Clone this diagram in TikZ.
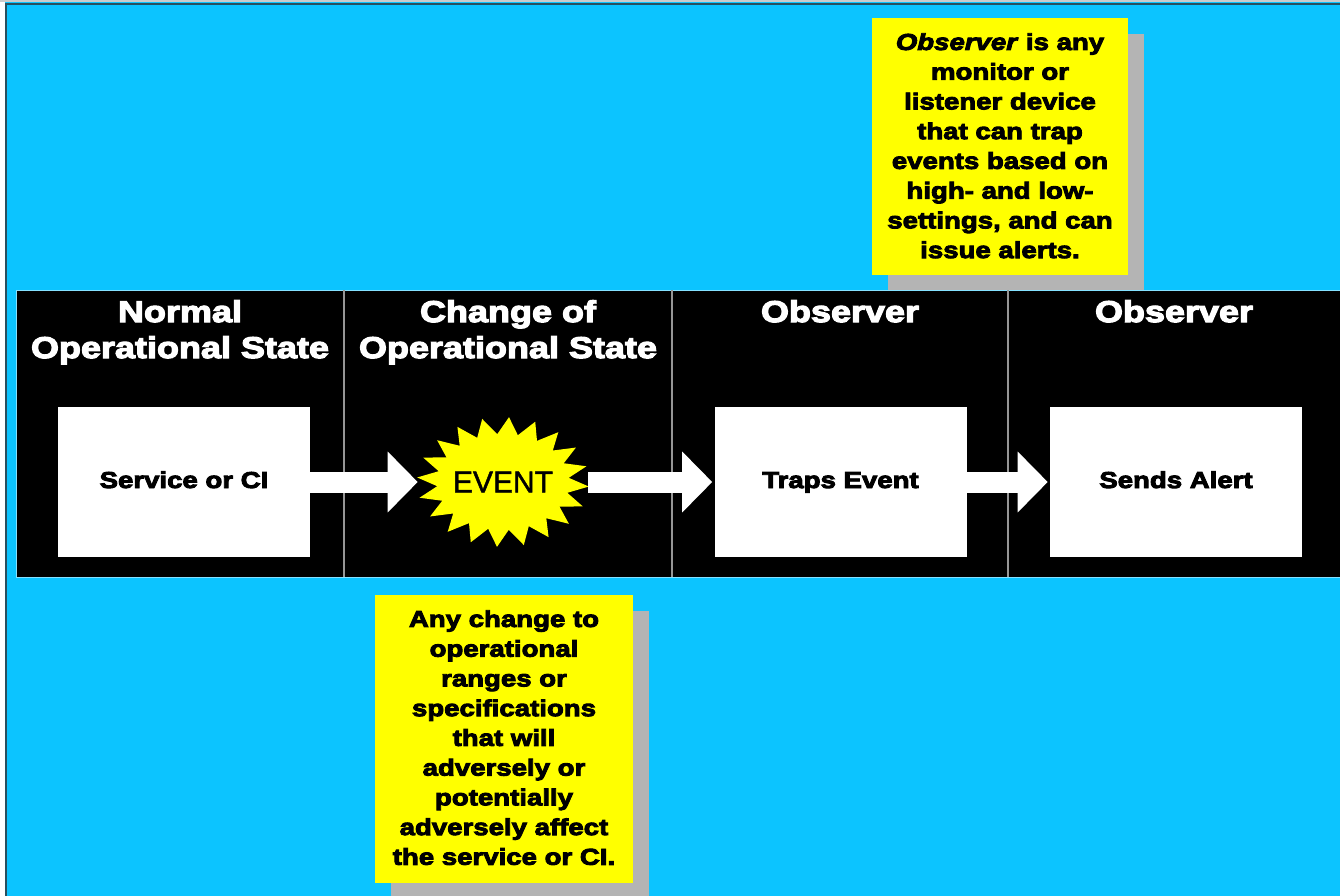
\documentclass[tikz,border=0pt]{standalone}
\usepackage{fontspec}
\usetikzlibrary{arrows.meta}
\newfontfamily\blk{Liberation Sans}[UprightFont=* Bold, ItalicFont=* Bold Italic, FakeStretch=1.2, FakeBold=4]
\newfontfamily\evfont{Liberation Sans}[FakeBold=1.5]
\definecolor{bgcyan}{RGB}{12,196,255}
\definecolor{noteyellow}{RGB}{255,255,0}
\definecolor{shadowgray}{RGB}{180,180,180}
\definecolor{divgray}{RGB}{150,150,150}
\definecolor{edgedark}{RGB}{40,80,95}
\tikzset{
  whitebox/.style={fill=white, minimum width=189pt, minimum height=112.5pt, inner sep=0pt,
    text height=12.5pt, text depth=3.5pt,
    font=\blk\fontsize{17.25pt}{20pt}\selectfont},
  paneltitle/.style={text=white, align=center, anchor=north, inner sep=0pt,
    font=\blk\fontsize{22.5pt}{27pt}\selectfont},
  notebox/.style={fill=noteyellow, anchor=north west, inner sep=0pt},
  notetext/.style={align=center, anchor=north, inner sep=0pt,
    font=\blk\fontsize{17.25pt}{22.3pt}\selectfont},
  blockarrow/.style={draw=white, line width=15.75pt, -{Triangle[length=22.5pt,width=44.25pt]}},
  divider/.style={draw=divgray, line width=1.5pt}
}
\begin{document}
\begin{tikzpicture}[x=0.75pt,y=-0.75pt]
\useasboundingbox (0,0) rectangle (1340,896);
\clip (0,0) rectangle (1340,896);
% background and page edges
\fill[bgcyan] (0,0) rectangle (1340,896);
\fill[white] (0,0) rectangle (5,896);
\fill[gray!40] (0,0) rectangle (1340,2);
\draw[edgedark, line width=1.5pt] (6,896) -- (6,3.5) -- (1340,3.5);
% shadows
\fill[shadowgray] (888,34) rectangle (1144,291);
\fill[shadowgray] (391,611) rectangle (649,899);
% black band
\fill[black, draw=white!50!bgcyan, line width=0.75pt] (16,290) rectangle (1345,577);
\draw[divider] (344,290) -- (344,577);
\draw[divider] (672,290) -- (672,577);
\draw[divider] (1008,290) -- (1008,577);
% titles
\node[paneltitle] (t1) at (180,300) {Normal\\Operational State};
\node[paneltitle] (t2) at (508,300) {Change of\\Operational State};
\node[paneltitle] (t3) at (840,300) {Observer};
\node[paneltitle] (t4) at (1174,300) {Observer};
% boxes
\node[whitebox] (svc) at (184,482) {Service or CI};
\fill[noteyellow] plot[samples=41, domain=0:40, variable=\k]
  ({503+(mod(round(\k),2)==0 ? 86 : 66)*cos(\k*360/40+4)},
   {482+(mod(round(\k),2)==0 ? 65 : 48)*sin(\k*360/40+4)}) -- cycle;
\node[font=\evfont\fontsize{22.5pt}{27pt}\selectfont, minimum width=127.5pt, minimum height=96pt, inner sep=0pt] (event) at (503,482) {EVENT};
\node[whitebox] (trap) at (840.5,482) {Traps Event};
\node[whitebox] (alert) at (1176,482) {Sends Alert};
% arrows
\draw[blockarrow] (svc.east) -- (event.west);
\draw[blockarrow] (event.east) -- ([xshift=-1.5pt]trap.west);
\draw[blockarrow] (trap.east) -- ([xshift=-1.5pt]alert.west);
% notes
\node[notebox, minimum width=192pt, minimum height=192.75pt] (obsnote) at (872,18) {};
\node[notetext] (obstext) at (1000,33) {\textit{Observer} is any\\monitor or\\listener device\\that can trap\\events based on\\high- and low-\\settings, and can\\issue alerts.};
\node[notebox, minimum width=193.5pt, minimum height=216pt] (chgnote) at (375,595) {};
\node[notetext] (chgtext) at (504,610) {Any change to\\operational\\ranges or\\specifications\\that will\\adversely or\\potentially\\adversely affect\\the service or CI.};
\end{tikzpicture}
\end{document}
